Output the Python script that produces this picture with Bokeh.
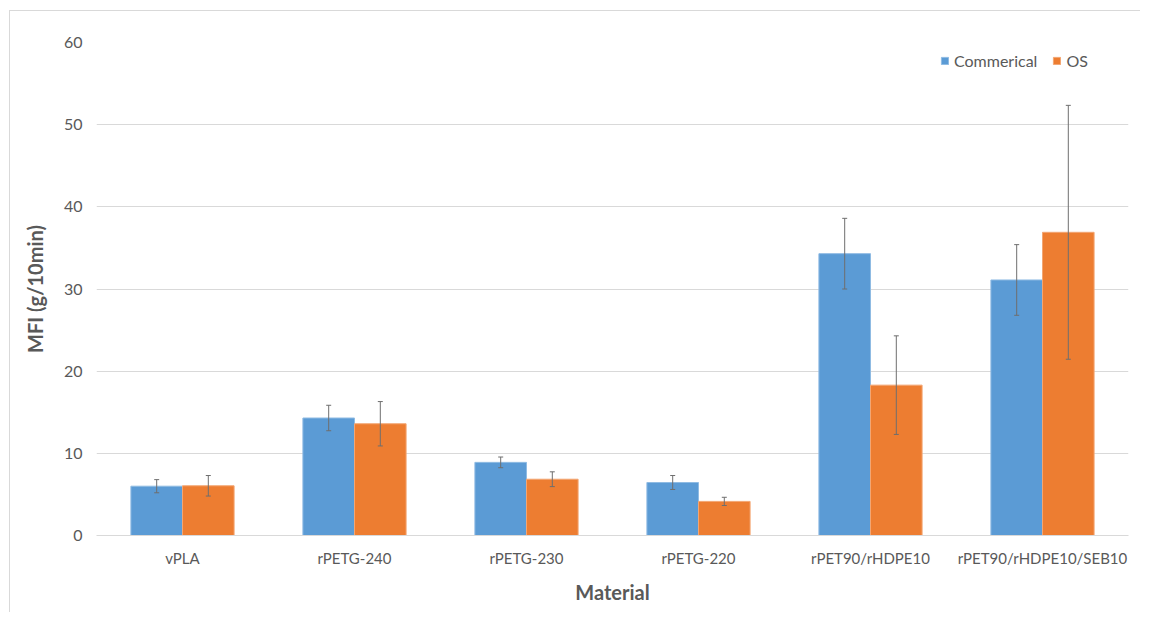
from bokeh.plotting import figure
from bokeh.models import ColumnDataSource, FactorRange, Whisker, TeeHead, Legend, LegendItem, FixedTicker
from bokeh.transform import dodge
from bokeh.embed import file_html
from bokeh.resources import INLINE

materials = ["vPLA", "rPETG-240", "rPETG-230", "rPETG-220", "rPET90/rHDPE10", "rPET90/rHDPE10/SEB10"]
commercial = [6.0, 14.3, 8.9, 6.45, 34.3, 31.1]
commercial_err = [0.8, 1.55, 0.65, 0.85, 4.3, 4.3]
os_vals = [6.05, 13.6, 6.85, 4.15, 18.3, 36.9]
os_err = [1.25, 2.7, 0.9, 0.5, 6.0, 15.45]
y_ticks = [0, 10, 20, 30, 40, 50, 60]

FONT = "Lato"
GRAY = "#595959"
BLUE = "#5B9BD5"
ORANGE = "#ED7D31"

src = ColumnDataSource(dict(
    x=materials,
    c=commercial,
    c_lo=[v - e for v, e in zip(commercial, commercial_err)],
    c_hi=[v + e for v, e in zip(commercial, commercial_err)],
    o=os_vals,
    o_lo=[v - e for v, e in zip(os_vals, os_err)],
    o_hi=[v + e for v, e in zip(os_vals, os_err)],
))

p = figure(x_range=FactorRange(*materials), y_range=(0, 60),
           width=1131, height=602, output_backend="svg", toolbar_location=None,
           min_border_left=86, min_border_right=13, min_border_top=31, min_border_bottom=78)
p.styles = {"margin-top": "10px", "margin-left": "9px",
            "border-top": "1px solid #d9d9d9", "border-left": "1px solid #d9d9d9"}
p.outline_line_color = None

r1 = p.vbar(x=dodge("x", -0.15, range=p.x_range), top="c", width=0.3, source=src,
            fill_color=BLUE, line_color="#8fbbe3", line_width=1)
r2 = p.vbar(x=dodge("x", 0.15, range=p.x_range), top="o", width=0.3, source=src,
            fill_color=ORANGE, line_color="#f3a673", line_width=1)

for xcol, lo, hi in [(-0.15, "c_lo", "c_hi"), (0.15, "o_lo", "o_hi")]:
    w = Whisker(base=dodge("x", xcol, range=p.x_range), lower=lo, upper=hi, source=src,
                level="overlay", line_color="#6e6e6e", line_width=1,
                upper_head=TeeHead(size=5, line_color="#6e6e6e", line_width=1),
                lower_head=TeeHead(size=5, line_color="#6e6e6e", line_width=1))
    p.add_layout(w)

p.ygrid.grid_line_color = "#d9d9d9"
p.ygrid.ticker = FixedTicker(ticks=y_ticks)
p.xgrid.grid_line_color = None

p.yaxis.ticker = FixedTicker(ticks=y_ticks)
p.yaxis.axis_line_color = None
p.yaxis.major_tick_line_color = None
p.yaxis.minor_tick_line_color = None
p.yaxis.major_label_text_font = FONT
p.yaxis.major_label_text_font_size = "16px"
p.yaxis.major_label_text_color = GRAY
p.yaxis.major_label_standoff = 8
p.yaxis.axis_label = "MFI (g/10min)"
p.yaxis.axis_label_text_font = FONT
p.yaxis.axis_label_text_font_size = "20px"
p.yaxis.axis_label_text_font_style = "bold"
p.yaxis.axis_label_text_color = GRAY
p.yaxis.axis_label_standoff = 14

p.xaxis.axis_line_color = "#d9d9d9"
p.xaxis.major_tick_line_color = None
p.xaxis.minor_tick_line_color = None
p.xaxis.major_label_text_font = FONT
p.xaxis.major_label_text_font_size = "15px"
p.xaxis.major_label_text_color = GRAY
p.xaxis.major_label_standoff = 7
p.xaxis.axis_label = "Material"
p.xaxis.axis_label_text_font = FONT
p.xaxis.axis_label_text_font_size = "20px"
p.xaxis.axis_label_text_font_style = "bold"
p.xaxis.axis_label_text_color = GRAY
p.xaxis.axis_label_standoff = 10

legend = Legend(items=[LegendItem(label="Commerical", renderers=[r1]),
                       LegendItem(label="OS", renderers=[r2])],
                orientation="horizontal", location=(844, 465),
                padding=0, spacing=15, glyph_width=9, glyph_height=9, label_standoff=5,
                border_line_color=None, background_fill_alpha=0,
                label_text_font=FONT, label_text_font_size="16px", label_text_color=GRAY)
p.add_layout(legend, "center")

open("out.html", "w").write(file_html(p, INLINE))
